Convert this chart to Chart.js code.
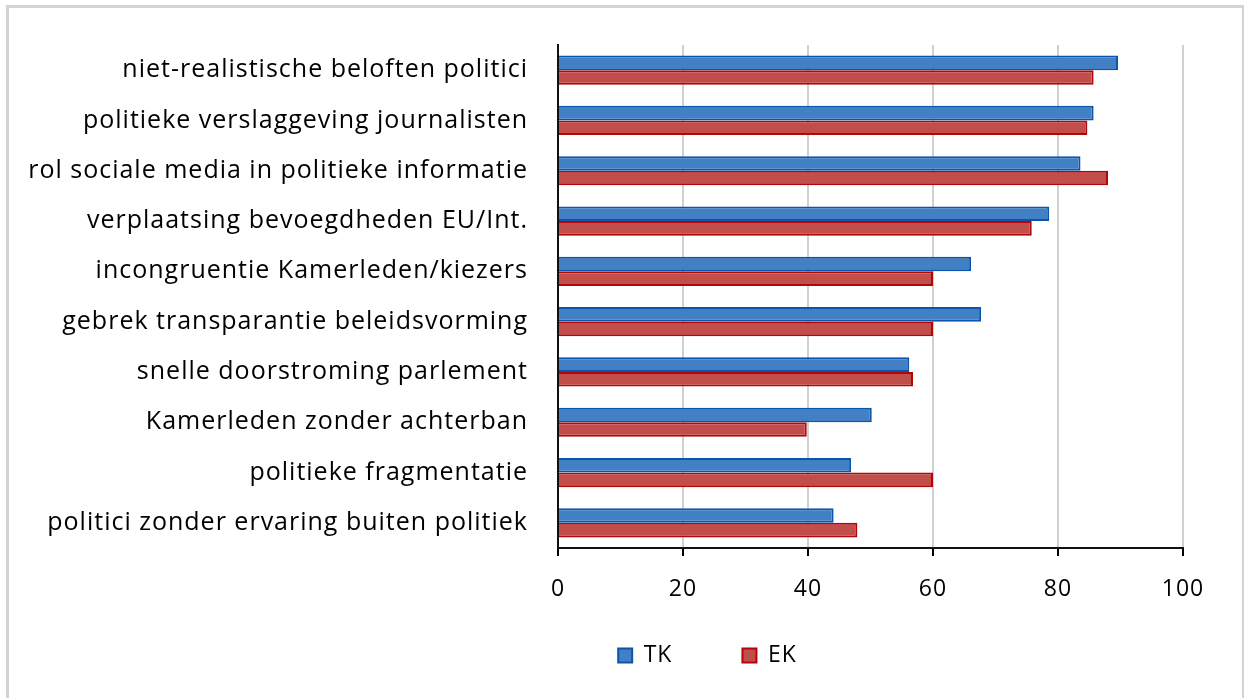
<!DOCTYPE html>
<html>
<head>
<meta charset="utf-8">
<script src="https://cdn.jsdelivr.net/npm/chart.js@4"></script>
<style>
  body { margin: 0; background: #fff; }
  #frame { position: absolute; left: 6px; top: 5px; width: 1233px; height: 720px; border: 3px solid #d4d4d4; border-bottom: none; }
  #wrap { position: absolute; left: 0; top: 0; width: 1244px; height: 698px; }
</style>
</head>
<body>
<div id="frame"></div>
<div id="wrap"><canvas id="chart"></canvas></div>
<script>
  const categories = [
    'niet-realistische beloften politici',
    'politieke verslaggeving journalisten',
    'rol sociale media in politieke informatie',
    'verplaatsing bevoegdheden EU/Int.',
    'incongruentie Kamerleden/kiezers',
    'gebrek transparantie beleidsvorming',
    'snelle doorstroming parlement',
    'Kamerleden zonder achterban',
    'politieke fragmentatie',
    'politici zonder ervaring buiten politiek'
  ];
  const tkValues = [89.6, 85.7, 83.6, 78.6, 66.1, 67.7, 56.2, 50.2, 46.9, 44.1];
  const ekValues = [85.7, 84.7, 88.0, 75.8, 60.0, 60.0, 56.8, 39.8, 60.0, 47.9];
  const xTicks = [0, 20, 40, 60, 80, 100];

  const font = "Open Sans";
  const axisLeft = 558;

  // legend sits a bit higher and further right than chart.js puts it
  const moveLegend = {
    id: 'moveLegend',
    afterLayout(chart) {
      const lg = chart.legend;
      lg.top = 655 - 11 - 70;
      lg.left += 114;
      lg.right += 114;
    },
    beforeDraw(chart) {
      // the excel labels are set a little loose
      chart.ctx.letterSpacing = '1px';
    }
  };

  const ctx = document.getElementById('chart').getContext('2d');
  new Chart(ctx, {
    type: 'bar',
    data: {
      labels: categories,
      datasets: [
        { label: 'TK', data: tkValues, backgroundColor: '#4280c6', borderColor: '#0b55ae', borderWidth: 2 },
        { label: 'EK', data: ekValues, backgroundColor: '#c24e4c', borderColor: '#b30606', borderWidth: 2 }
      ]
    },
    options: {
      indexAxis: 'y',
      responsive: true,
      maintainAspectRatio: false,
      animation: false,
      datasets: { bar: { categoryPercentage: 0.58, barPercentage: 1.0 } },
      layout: { padding: { left: 0, right: 61, top: 42, bottom: 24 } },
      scales: {
        x: {
          min: 0, max: 100,
          afterBuildTicks: s => { s.ticks = xTicks.map(v => ({ value: v })); },
          afterFit: s => { s.height = 86; },
          grid: { color: '#d0d0d0', lineWidth: 2, tickColor: '#000', tickLength: 8 },
          border: { color: '#111', width: 2 },
          ticks: { color: '#000', font: { family: font, size: 23 }, padding: 20 }
        },
        y: {
          afterFit: s => { s.width = axisLeft; },
          grid: { display: false, drawTicks: false },
          border: { color: '#111', width: 2 },
          ticks: { color: '#000', font: { family: font, size: 25 }, padding: 30, autoSkip: false }
        }
      },
      plugins: {
        legend: {
          position: 'bottom',
          maxHeight: 40,
          labels: { color: '#000', font: { family: font, size: 23 }, boxWidth: 14, boxHeight: 14, padding: 70 }
        },
        tooltip: { enabled: false }
      }
    },
    plugins: [moveLegend]
  });
</script>
</body>
</html>
